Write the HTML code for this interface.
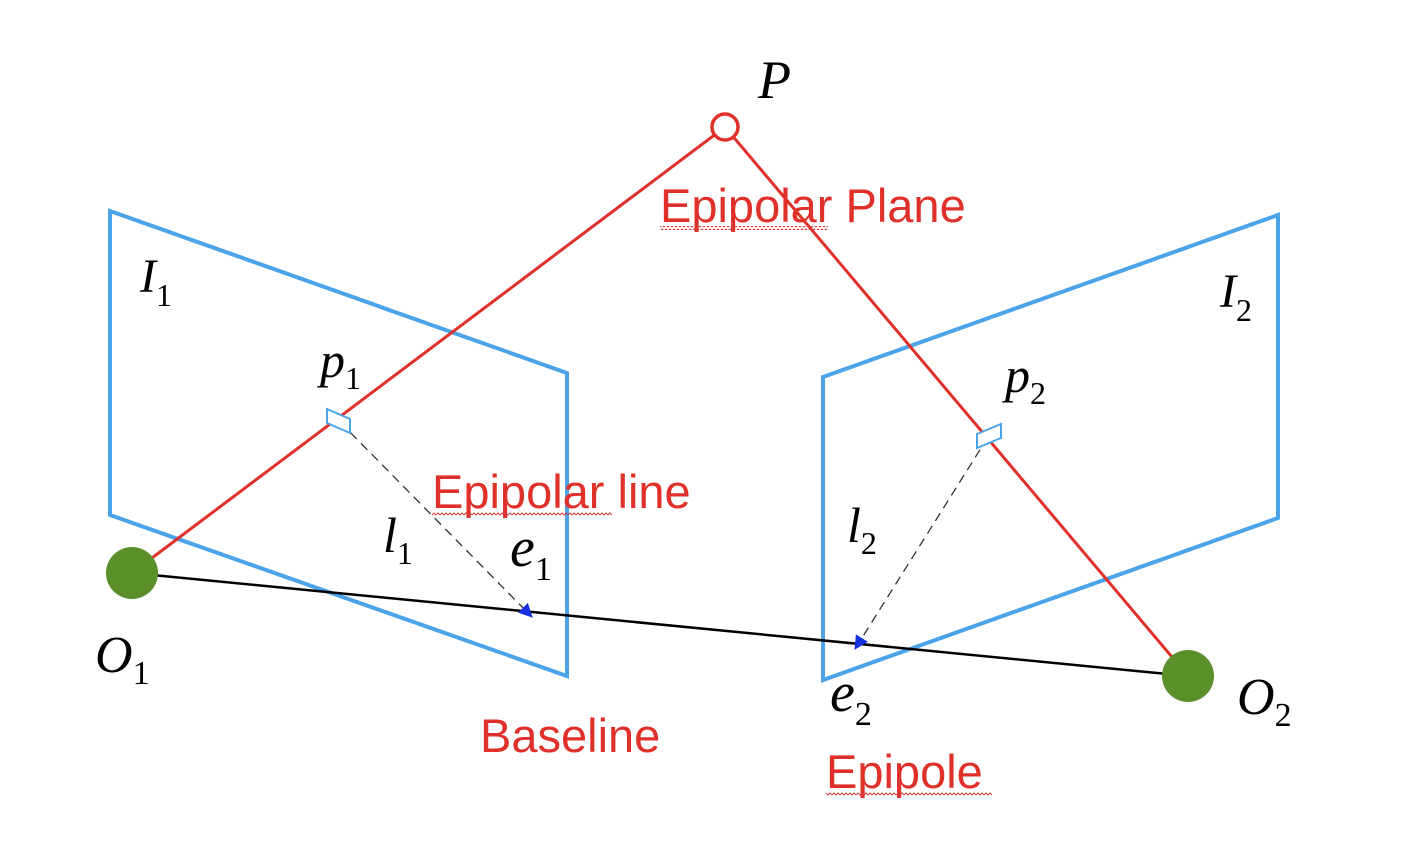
<!DOCTYPE html>
<html><head><meta charset="utf-8"><style>
html,body{margin:0;padding:0;background:#fff;}
svg{display:block}
.it{font-family:"Liberation Serif",serif;font-style:italic;fill:#000}
.sub{font-family:"Liberation Serif",serif;fill:#000}
.lbl{font-family:"Liberation Sans",sans-serif;fill:#e0302a}
</style></head><body>
<svg width="1426" height="852" viewBox="0 0 1426 852">
<defs>
<marker id="ah" markerWidth="14" markerHeight="14" refX="13" refY="7" orient="auto" markerUnits="userSpaceOnUse">
<path d="M0,0 L14,7 L0,14 z" fill="#1530e0"/></marker>
<pattern id="wave" width="8" height="4" patternUnits="userSpaceOnUse"><path d="M0,3 L2,1 L4,3 L6,1 L8,3" stroke="#d04040" stroke-width="1" fill="none"/></pattern>
</defs>
<polygon points="110,211 567,373 567,676 110,515" fill="none" stroke="#4ba3ea" stroke-width="4"/>
<polygon points="823,377 1278,215 1278,518 823,680" fill="none" stroke="#4ba3ea" stroke-width="4"/>
<line x1="132" y1="573" x2="1188" y2="676" stroke="#000" stroke-width="2.5"/>
<line x1="132" y1="573" x2="725" y2="127" stroke="#e0302a" stroke-width="3"/>
<line x1="725" y1="127" x2="1188" y2="676" stroke="#e0302a" stroke-width="3"/>
<line x1="340" y1="422" x2="532" y2="617" stroke="#333" stroke-width="1.3" stroke-dasharray="9,6" marker-end="url(#ah)"/>
<line x1="988" y1="437" x2="855" y2="649" stroke="#333" stroke-width="1.3" stroke-dasharray="9,6" marker-end="url(#ah)"/>
<polygon points="327,409 350,419 350,433 327,423" fill="#fff" stroke="#4ba3ea" stroke-width="2"/>
<polygon points="977,434 1001,424 1001,438 977,448" fill="#fff" stroke="#4ba3ea" stroke-width="2"/>
<circle cx="725" cy="127" r="13" fill="#fff" stroke="#e0302a" stroke-width="3.5"/>
<circle cx="132" cy="573" r="26" fill="#5a8f2a"/>
<circle cx="1188" cy="676" r="26" fill="#5a8f2a"/>
<text class="it" x="758" y="98" font-size="54">P</text>
<text class="it" x="140" y="292" font-size="48">I<tspan class="sub" font-style="normal" font-size="32" dy="14">1</tspan></text>
<text class="it" x="1220" y="307" font-size="48">I<tspan class="sub" font-style="normal" font-size="32" dy="14">2</tspan></text>
<text class="it" x="320" y="377" font-size="50">p<tspan class="sub" font-style="normal" font-size="32" dy="12">1</tspan></text>
<text class="it" x="1005" y="392" font-size="50">p<tspan class="sub" font-style="normal" font-size="32" dy="12">2</tspan></text>
<text class="it" x="383" y="552" font-size="50">l<tspan class="sub" font-style="normal" font-size="32" dy="12">1</tspan></text>
<text class="it" x="847" y="542" font-size="50">l<tspan class="sub" font-style="normal" font-size="32" dy="12">2</tspan></text>
<text class="it" x="510" y="566" font-size="56">e<tspan class="sub" font-style="normal" font-size="34" dy="14">1</tspan></text>
<text class="it" x="830" y="711" font-size="56">e<tspan class="sub" font-style="normal" font-size="34" dy="14">2</tspan></text>
<text class="it" x="95" y="672" font-size="52">O<tspan class="sub" font-style="normal" font-size="34" dy="12">1</tspan></text>
<text class="it" x="1237" y="714" font-size="52">O<tspan class="sub" font-style="normal" font-size="34" dy="12">2</tspan></text>
<text class="lbl" x="660" y="222" font-size="47">Epipolar Plane</text>
<rect x="660" y="226" width="168" height="4" fill="url(#wave)"/>
<text class="lbl" x="432" y="508" font-size="47">Epipolar line</text>
<rect x="432" y="512" width="180" height="4" fill="url(#wave)"/>
<text class="lbl" x="480" y="752" font-size="47">Baseline</text>
<text class="lbl" x="826" y="788" font-size="47">Epipole</text>
<rect x="826" y="792" width="166" height="4" fill="url(#wave)"/>
</svg>
</body></html>
